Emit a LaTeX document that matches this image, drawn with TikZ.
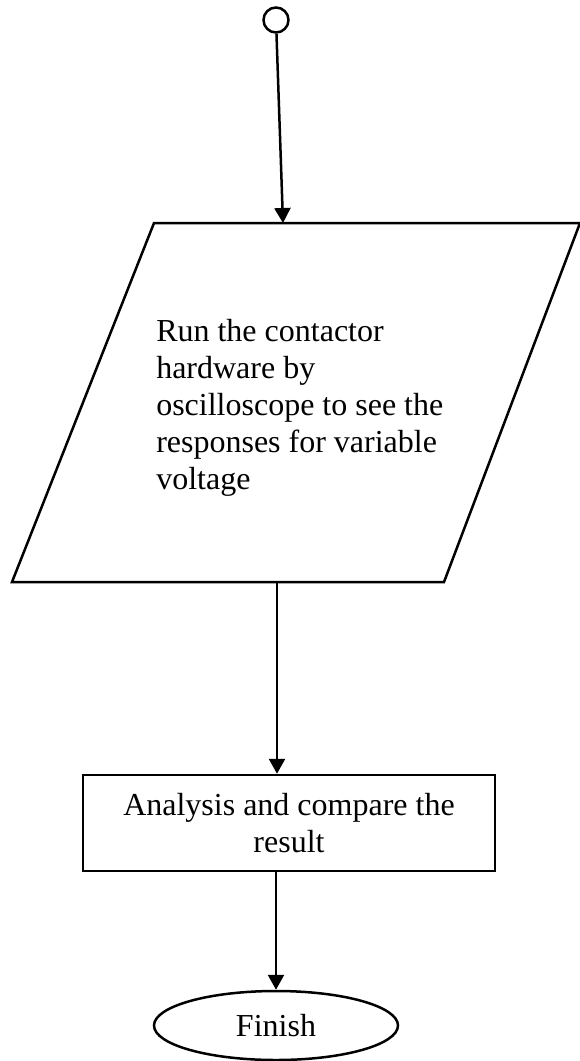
\documentclass[tikz,border=0pt]{standalone}
\usepackage{fontspec}
\setmainfont{Liberation Serif}
\usetikzlibrary{arrows.meta,shapes.geometric}
\begin{document}
\begin{tikzpicture}[x=1pt,y=-1pt,
  line width=2.5pt,
  txt/.style={font=\fontsize{32}{36.8}\selectfont},
  arr/.style={-{Triangle[length=15pt,width=16pt]}},
  boxstyle/.style={draw,rectangle,minimum width=412pt,minimum height=96pt,inner sep=0pt,align=center,txt},
  endstyle/.style={draw,ellipse,minimum width=244pt,minimum height=69pt,inner sep=0pt,txt},
  startstyle/.style={draw,circle,minimum size=25pt,inner sep=0pt}]
\useasboundingbox (0,0) rectangle (579,1061);
% start
\node[startstyle] (start) at (276,20) {};
% input parallelogram
\draw[line join=miter] (154,223) -- (580,223) -- (444,582) -- (12,582) -- cycle;
\coordinate (pTop) at (283,223);
\coordinate (pBot) at (277,582);
\node[txt,align=left,anchor=north west,inner sep=0pt] (ptext) at (155,318.5)
  {Run the contactor\\hardware by\\oscilloscope to see the\\responses for variable\\voltage};
% process box
\node[boxstyle] (box) at (289,823) {Analysis and compare the\\result};
% end
\node[endstyle] (fin) at (276,1025.5) {Finish};
% connectors
\draw[arr] (start) -- (pTop);
\draw[arr] (pBot) -- (pBot |- box.north);
\draw[arr] (box.south -| fin.north) -- (fin.north);
\end{tikzpicture}
\end{document}
